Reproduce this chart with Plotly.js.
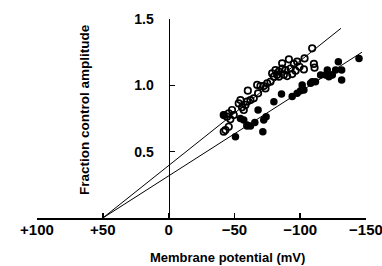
<!DOCTYPE html>
<html>
<head>
<meta charset="utf-8">
<script src="https://cdn.plot.ly/plotly-3.0.1.min.js"></script>
<style>html,body{margin:0;padding:0;background:#fff}#chart{width:382px;height:266px}</style>
</head>
<body>
<div id="chart"></div>
<script>
// Open circles
const openX = [-109.1,-103.3,-110.4,-110.9,-97.7,-95.2,-91.4,-99.5,-102.8,-96.5,-92.7,-88.9,-86.3,-83.8,-81.2,-82.5,-80,-83.8,-87.6,-90.1,-93.9,-77.4,-74.9,-72.3,-69.8,-67.3,-73.6,-68,-60.2,-64.7,-62.2,-59.6,-58.4,-55.8,-57.1,-48.2,-45.7,-44.4,-49.5,-46.9,-45.7,-43.2,-41.9,-53.3,-54.6,-41.9,-78.7,-86.3];
const openY = [1.279,1.203,1.161,1.133,1.178,1.161,1.196,1.14,1.12,1.11,1.127,1.115,1.127,1.103,1.115,1.08,1.065,1.065,1.08,1.07,1.085,1.027,1.015,0.995,0.995,1.003,0.977,0.94,0.96,0.902,0.889,0.877,0.852,0.834,0.814,0.814,0.789,0.764,0.776,0.744,0.688,0.663,0.651,0.864,0.889,0.776,1.09,1.166];
// Filled circles
const fillX = [-144.7,-129,-131.5,-131.5,-126.9,-124.4,-120.6,-119.3,-121.8,-115.5,-111.6,-109.1,-107.9,-101.5,-102.8,-100.3,-97.7,-93.9,-85.8,-80,-74.1,-72.3,-68,-65.5,-62.2,-59.6,-57.1,-71.6,-50.8,-41.9,-54.6,-59.6];
const fillY = [1.203,1.178,1.115,1.04,1.115,1.077,1.115,1.077,1.065,1.077,1.027,1.027,1.015,1.003,0.965,0.96,0.94,0.915,0.935,0.877,0.764,0.739,0.814,0.719,0.694,0.701,0.739,0.651,0.613,0.776,0.75,0.693];
// Fitted lines
const line1X = [50,-131], line1Y = [0,1.43];
const line2X = [50,-147], line2Y = [0,1.25];
// Ticks
const xTickVals = [100,50,0,-50,-100,-150];
const xTickText = ['+100','+50','0','\u221250','\u2212100','\u2212150'];
const yTickVals = [0.5,1.0,1.5];
const yTickText = ['0.5','1.0','1.5'];

const F = 'Liberation Sans, Arial, sans-serif';
const data = [
  {x: line1X, y: line1Y, mode: 'lines', line: {color: '#000', width: 1}, hoverinfo: 'skip'},
  {x: line2X, y: line2Y, mode: 'lines', line: {color: '#000', width: 1}, hoverinfo: 'skip'},
  {x: openX, y: openY, mode: 'markers', marker: {symbol: 'circle-open', size: 6.5, color: '#000', line: {width: 1.7, color: '#000'}}},
  {x: fillX, y: fillY, mode: 'markers', marker: {symbol: 'circle', size: 7.5, color: '#000'}}
];
const layout = {
  width: 382, height: 266,
  margin: {l: 37, r: 16, t: 19, b: 48},
  paper_bgcolor: '#fff', plot_bgcolor: '#fff',
  showlegend: false,
  font: {family: F, color: '#000'},
  xaxis: {
    range: [100.001, -150.001], showgrid: false, zeroline: false,
    showline: true, linecolor: '#000', linewidth: 1.5,
    ticks: 'inside', ticklen: 5, tickwidth: 1.5, tickcolor: '#000',
    tickvals: xTickVals, ticktext: xTickText,
    tickfont: {family: F, size: 15, color: '#000', weight: 'bold'},
    ticklabelstandoff: -3, ticklabeloverflow: 'allow'
  },
  yaxis: {
    range: [0, 1.5], showgrid: false, zeroline: false,
    anchor: 'free', position: 0.4,
    showline: true, linecolor: '#000', linewidth: 1.5,
    ticks: 'inside', ticklen: 5, tickwidth: 1.5, tickcolor: '#000',
    tickvals: yTickVals, ticktext: yTickText,
    tickfont: {family: F, size: 14, color: '#000', weight: 'bold'},
    ticklabelstandoff: 12, ticklabeloverflow: 'allow'
  },
  annotations: [
    {text: 'Membrane potential (mV)', xref: 'paper', yref: 'paper', x: 0.578, y: -0.201,
     xanchor: 'center', yanchor: 'middle', showarrow: false,
     font: {family: F, size: 13, color: '#000', weight: 'bold'}},
    {text: 'Fraction control amplitude', xref: 'paper', yref: 'paper', x: 0.146, y: 0.543,
     xanchor: 'center', yanchor: 'middle', showarrow: false, textangle: -90,
     font: {family: F, size: 13.5, color: '#000', weight: 'bold'}}
  ]
};
Plotly.newPlot('chart', data, layout, {staticPlot: true, displayModeBar: false});
</script>
</body>
</html>
